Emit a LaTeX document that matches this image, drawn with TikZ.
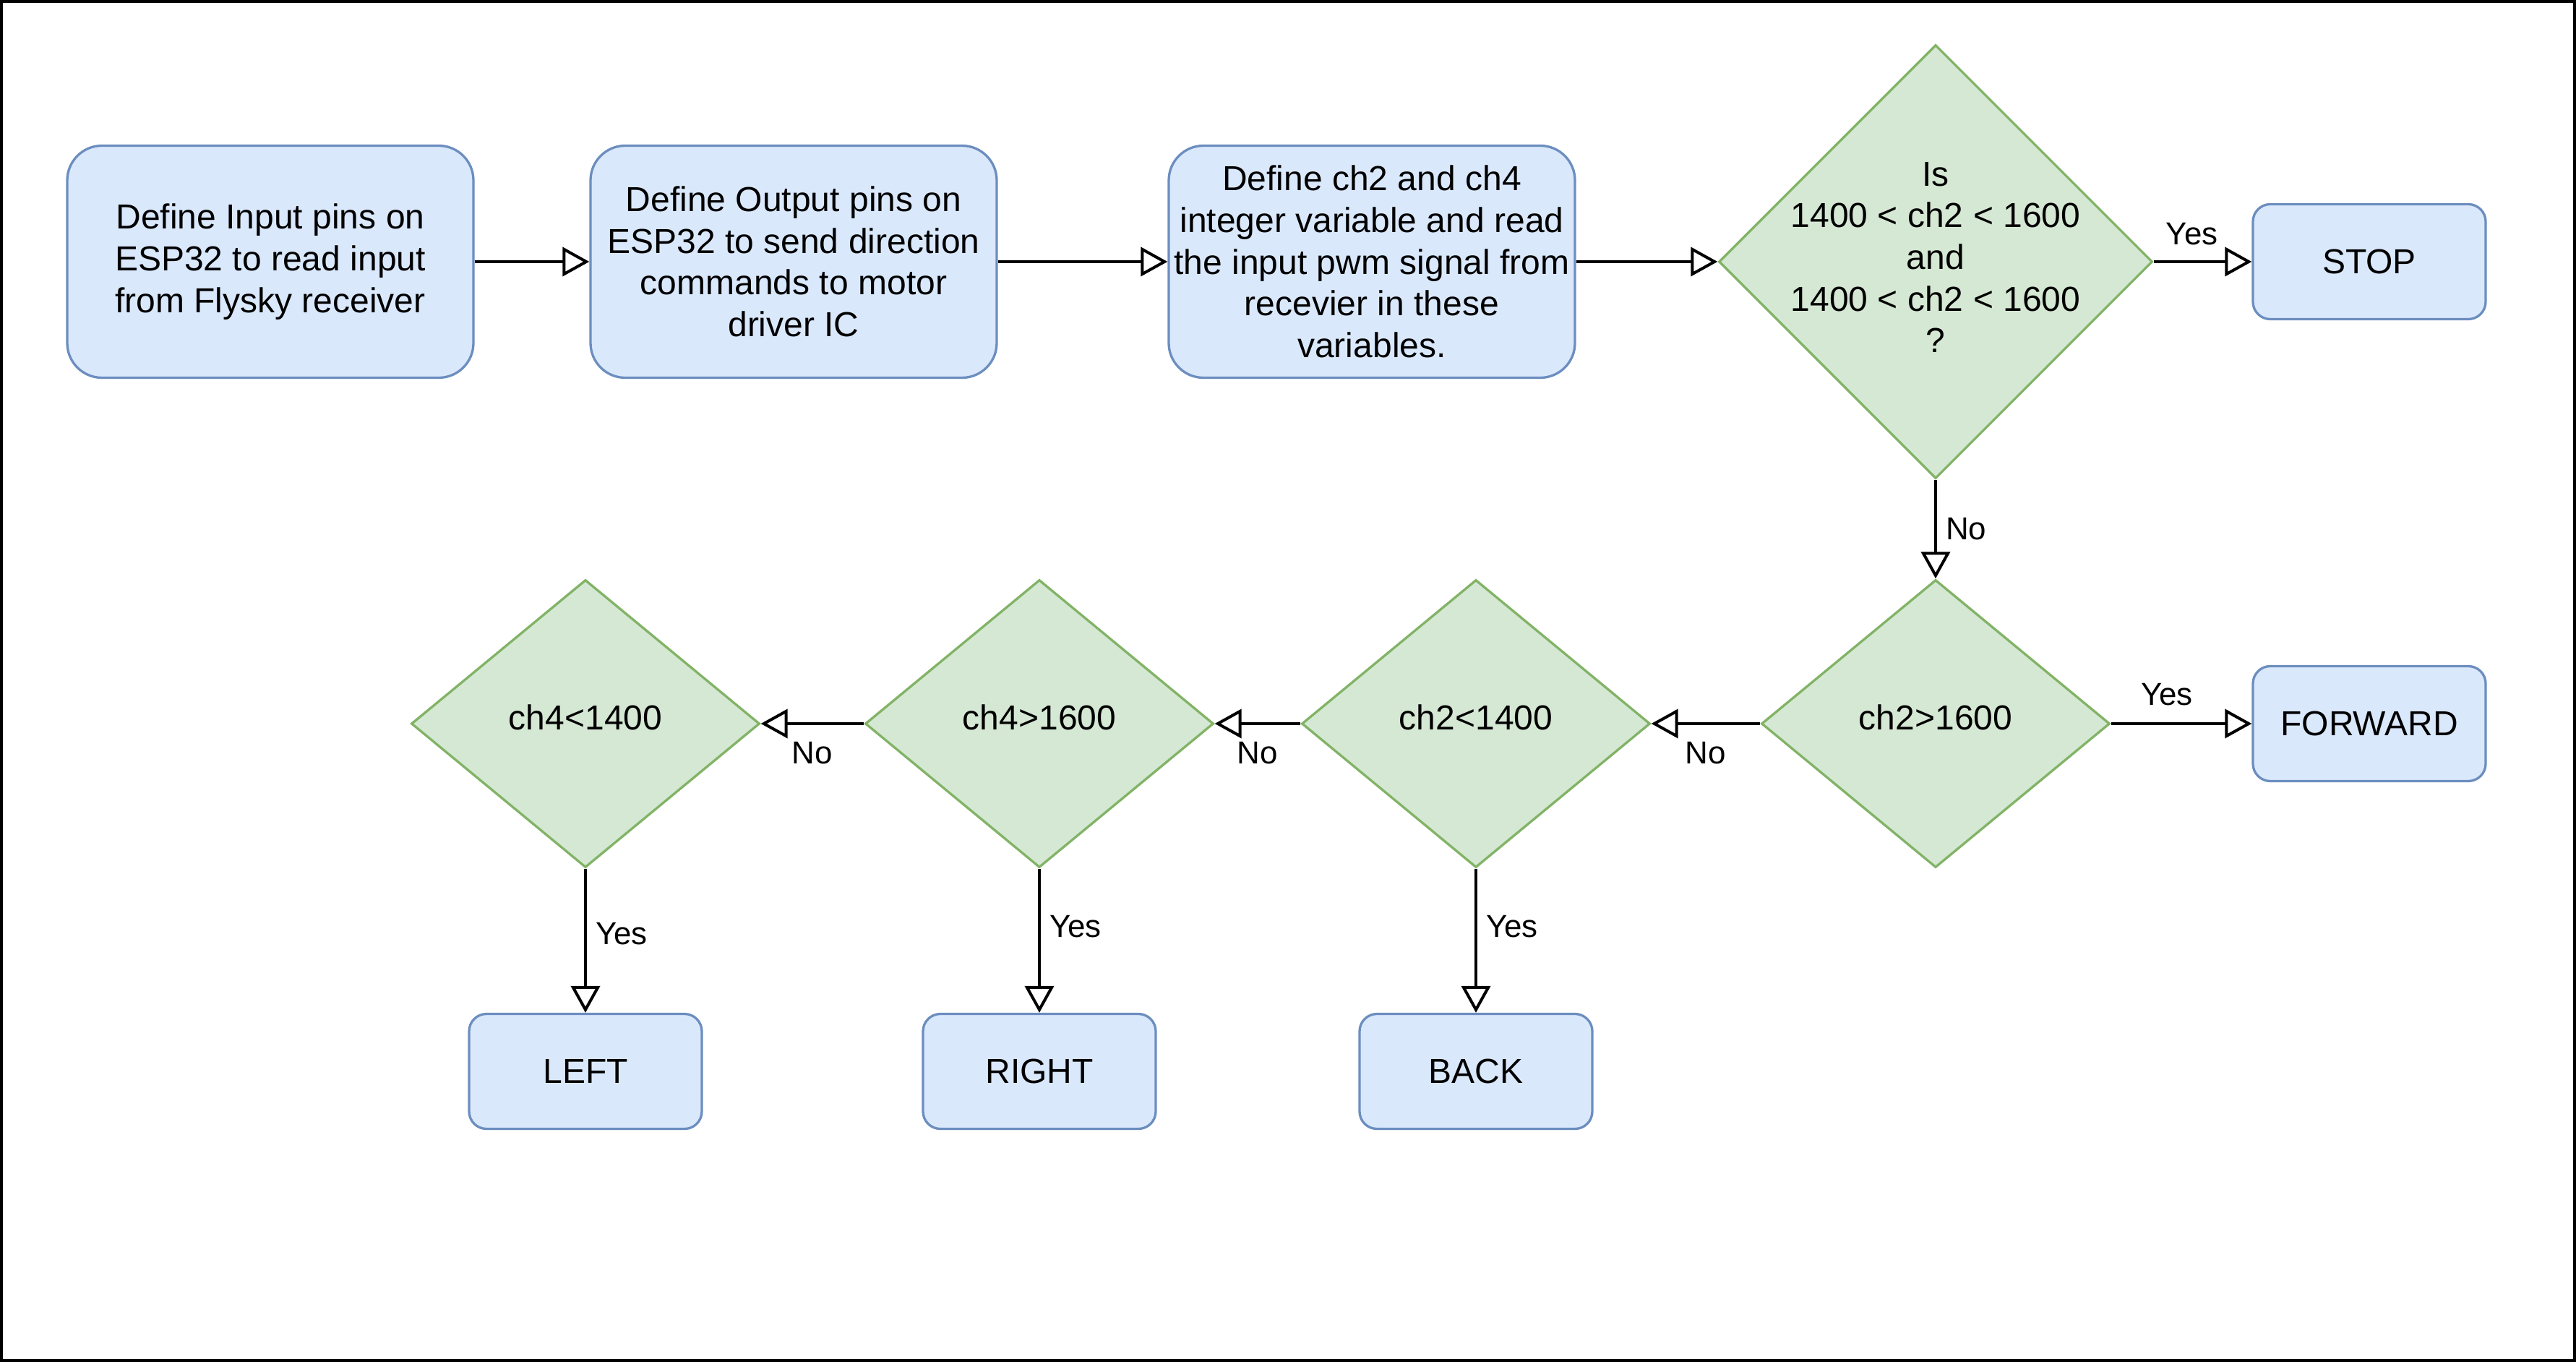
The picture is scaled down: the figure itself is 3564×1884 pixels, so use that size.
\documentclass[tikz,border=0pt]{standalone}
\usepackage{fontspec}
\setmainfont{Liberation Sans}
\usetikzlibrary{
    shapes.geometric,
    arrows.meta,
    positioning,
}
\definecolor{boxFill}{HTML}{DAE8FC}
\definecolor{boxLine}{HTML}{6C8EBF}
\definecolor{decisionFill}{HTML}{D5E8D4}
\definecolor{decisionLine}{HTML}{82B366}

\begin{document}
\begin{tikzpicture}[x=0.1mm, y=-0.1mm, >={Triangle[open, length=3.7mm, width=4mm]}, font=\fontsize{13.66pt}{16.4pt}\selectfont]

    \tikzstyle{commonNode}=[align=center, line width=0.33mm, inner sep=0pt]
    \tikzstyle{process}=[commonNode, rectangle, rounded corners=4.8mm, draw=boxLine, fill=boxFill, minimum width=56.2mm, minimum height=32.1mm]
    \tikzstyle{action}=[process, rounded corners=2.4mm, minimum width=32.2mm, minimum height=15.9mm]
    \tikzstyle{decision}=[commonNode, diamond, draw=decisionLine, fill=decisionFill, minimum width=48.2mm, minimum height=39.8mm]
    \tikzstyle{bigDecision}=[decision, minimum width=60mm, minimum height=60mm]
    \tikzstyle{flowEdge}=[<-, line width=0.4mm, black]
    \tikzstyle{edgeLabel}=[font=\fontsize{12.5pt}{15pt}\selectfont, inner sep=1.2mm]

    % Frame
    \useasboundingbox (0,0) rectangle (3564,1884);
    \draw[line width=0.4mm] (2,2) rectangle (3562,1882);

    % Top row
    \node at (374, 362)  [process] (DIN)  {Define Input pins on\\ESP32 to read input\\from Flysky receiver};
    \node at (1098, 362) [process] (DOUT) {Define Output pins on\\ESP32 to send direction\\commands to motor\\driver IC}
        edge [flowEdge] (DIN);
    \node at (1898, 362) [process] (DVAR) {Define ch2 and ch4\\integer variable and read\\the input pwm signal from\\recevier in these\\variables.}
        edge [flowEdge] (DOUT);
    \node at (2678, 362) [bigDecision, label={[align=center, yshift=0.6mm]center:Is\\1400 < ch2 < 1600\\and\\1400 < ch2 < 1600\\?}] (IDLE) {}
        edge [flowEdge] (DVAR);
    \node at (3278, 362) [action] (STOP) {STOP}
        edge [flowEdge] node [edgeLabel, above, xshift=-1.5mm, yshift=0.9mm] {Yes} (IDLE);

    % Bottom row
    \node at (2678, 1001) [decision, label={[yshift=0.9mm]center:ch2>1600}] (FWD) {}
        edge [flowEdge] node [edgeLabel, right] {No} (IDLE);
    \node at (3278, 1001) [action] (FORWARD) {FORWARD}
        edge [flowEdge] node [edgeLabel, above, xshift=-2mm, yshift=1.1mm] {Yes} (FWD);
    \node at (2042, 1001) [decision, label={[yshift=0.9mm]center:ch2<1400}] (BCK) {}
        edge [flowEdge] node [edgeLabel, below, yshift=-1.1mm] {No} (FWD);
    \node at (1438, 1001) [decision, label={[yshift=0.9mm]center:ch4>1600}] (RGT) {}
        edge [flowEdge] node [edgeLabel, below, yshift=-1.1mm] {No} (BCK);
    \node at (810, 1001)  [decision, label={[yshift=0.9mm]center:ch4<1400}] (LFT) {}
        edge [flowEdge] node [edgeLabel, below, yshift=-1.1mm] {No} (RGT);

    % Outputs
    \node at (2042, 1482) [action] (BACK)  {BACK}
        edge [flowEdge] node [edgeLabel, right, pos=0.6] {Yes} (BCK);
    \node at (1438, 1482) [action] (RIGHT) {RIGHT}
        edge [flowEdge] node [edgeLabel, right, pos=0.6] {Yes} (RGT);
    \node at (810, 1482)  [action] (LEFT)  {LEFT}
        edge [flowEdge] node [edgeLabel, right, pos=0.55] {Yes} (LFT);

\end{tikzpicture}
\end{document}
